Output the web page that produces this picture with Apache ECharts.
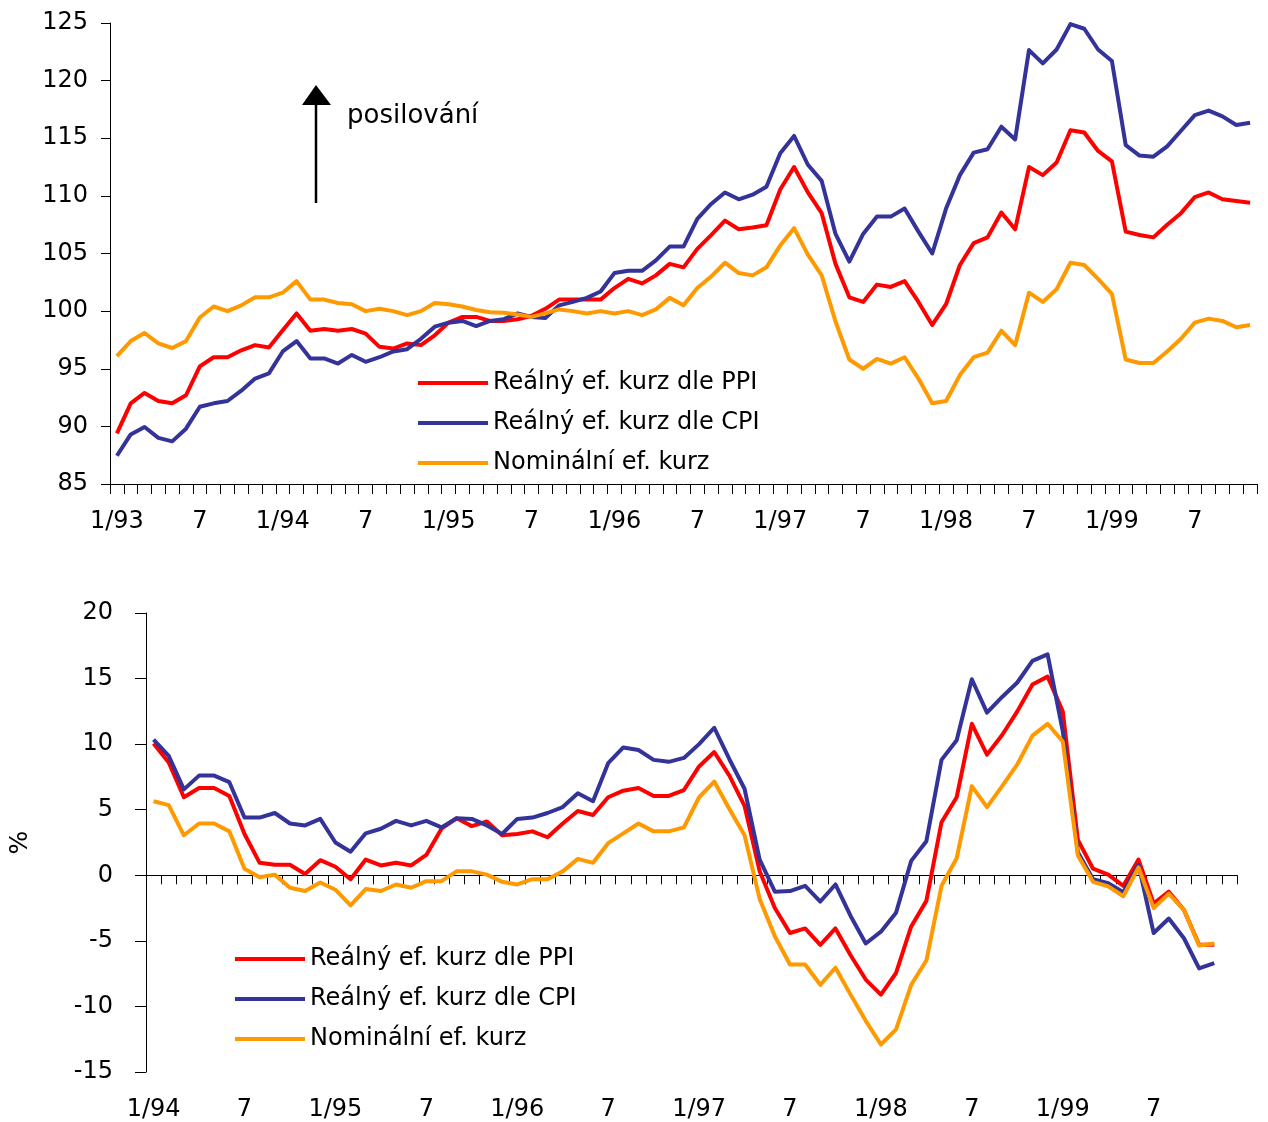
<!DOCTYPE html>
<html>
<head>
<meta charset="utf-8">
<script src="https://cdn.jsdelivr.net/npm/echarts@6/dist/echarts.min.js"></script>
<style>
  html, body { margin: 0; padding: 0; background: #fff; }
  #chart { width: 1268px; height: 1122px; }
</style>
</head>
<body>
<div id="chart"></div>
<script>
// měsíční kategorie
const topStart = { year: 1993, month: 1, count: 83 }     // 1/93 .. 11/99
const bottomStart = { year: 1994, month: 1, count: 72 }  // 1/94 .. 12/99

const topTickLabels = ['1/93', '7', '1/94', '7', '1/95', '7', '1/96', '7', '1/97', '7', '1/98', '7', '1/99', '7']
const bottomTickLabels = ['1/94', '7', '1/95', '7', '1/96', '7', '1/97', '7', '1/98', '7', '1/99', '7']

const seriesNames = ['Reálný ef. kurz dle PPI', 'Reálný ef. kurz dle CPI', 'Nominální ef. kurz']
const colors = ['#FF0000', '#333399', '#FF9900']

// horní graf - index (1/93 .. 11/99)
const topPPI = [
  89.4, 92.0, 92.9, 92.2, 92.0, 92.7, 95.2, 96.0, 96.0, 96.6, 97.05, 96.85,
  98.35, 99.8, 98.3, 98.45, 98.3, 98.45, 98.05, 96.9, 96.75, 97.2, 97.05, 97.9,
  99.0, 99.5, 99.5, 99.15, 99.15, 99.3, 99.6, 100.2, 101.0, 101.0, 101.0, 101.0,
  102.0, 102.8, 102.4, 103.1, 104.1, 103.8, 105.4, 106.6, 107.85, 107.1, 107.25, 107.45,
  110.55, 112.5, 110.3, 108.5, 104.1, 101.2, 100.8, 102.3, 102.1, 102.6, 100.8, 98.8,
  100.6, 104.0, 105.9, 106.4, 108.55, 107.1, 112.5, 111.8, 112.9, 115.7, 115.5, 113.9,
  113.0, 106.9, 106.6, 106.4, 107.5, 108.5, 109.9, 110.3, 109.7, 109.55, 109.4
]
const topCPI = [
  87.45, 89.3, 89.95, 89.0, 88.7, 89.8, 91.7, 92.0, 92.2, 93.1, 94.15, 94.6,
  96.5, 97.4, 95.9, 95.9, 95.45, 96.2, 95.6, 96.0, 96.5, 96.7, 97.6, 98.65,
  99.0, 99.15, 98.7, 99.15, 99.3, 99.8, 99.5, 99.4, 100.5, 100.8, 101.15, 101.7,
  103.3, 103.5, 103.5, 104.4, 105.6, 105.6, 108.0, 109.3, 110.3, 109.7, 110.1, 110.8,
  113.7, 115.2, 112.7, 111.3, 106.7, 104.3, 106.7, 108.2, 108.2, 108.9, 106.9, 105.0,
  108.9, 111.8, 113.75, 114.05, 116.0, 114.9, 122.65, 121.5, 122.7, 124.9, 124.5, 122.7,
  121.7, 114.4, 113.5, 113.4, 114.3, 115.65, 117.0, 117.4, 116.9, 116.15, 116.35
]
const topNominal = [
  96.1, 97.4, 98.1, 97.2, 96.8, 97.4, 99.45, 100.4, 100.0, 100.5, 101.2, 101.2,
  101.6, 102.6, 101.0, 101.0, 100.7, 100.6, 100.0, 100.2, 100.0, 99.65, 100.0, 100.7,
  100.6, 100.4, 100.1, 99.9, 99.85, 99.7, 99.5, 99.8, 100.15, 100.0, 99.8, 100.0,
  99.8, 100.0, 99.65, 100.15, 101.15, 100.5, 102.0, 103.0, 104.2, 103.3, 103.1, 103.8,
  105.7, 107.2, 104.9, 103.1, 99.1, 95.8, 95.0, 95.85, 95.45, 96.0, 94.15, 92.0,
  92.2, 94.45, 96.0, 96.4, 98.3, 97.05, 101.6, 100.8, 101.9, 104.2, 104.0, 102.8,
  101.5, 95.8, 95.5, 95.5, 96.5, 97.6, 99.0, 99.35, 99.15, 98.6, 98.8
]

// dolní graf - meziroční změna v % (1/94 .. 11/99)
const bottomPPI = [
  10.05, 8.6, 5.95, 6.65, 6.65, 6.05, 3.15, 0.95, 0.8, 0.8, 0.1, 1.15,
  0.65, -0.3, 1.2, 0.75, 0.95, 0.75, 1.55, 3.55, 4.35, 3.75, 4.1, 3.05,
  3.15, 3.35, 2.9, 3.95, 4.9, 4.6, 5.95, 6.45, 6.65, 6.05, 6.05, 6.5,
  8.3, 9.4, 7.6, 5.3, 0.3, -2.5, -4.4, -4.05, -5.3, -4.05, -6.1, -7.95,
  -9.1, -7.45, -3.9, -1.95, 4.05, 5.95, 11.55, 9.2, 10.7, 12.5, 14.55, 15.15,
  12.5, 2.7, 0.5, 0.05, -0.8, 1.2, -2.15, -1.25, -2.65, -5.3, -5.3
]
const bottomCPI = [
  10.35, 9.1, 6.55, 7.6, 7.6, 7.1, 4.4, 4.4, 4.75, 3.95, 3.8, 4.3,
  2.5, 1.8, 3.2, 3.55, 4.15, 3.8, 4.15, 3.65, 4.35, 4.3, 3.8, 3.15,
  4.3, 4.4, 4.75, 5.2, 6.25, 5.65, 8.55, 9.75, 9.55, 8.8, 8.65, 8.95,
  10.0, 11.25, 8.85, 6.6, 1.2, -1.25, -1.2, -0.8, -2.0, -0.7, -3.1, -5.2,
  -4.3, -2.85, 1.1, 2.6, 8.8, 10.3, 14.95, 12.4, 13.6, 14.7, 16.35, 16.85,
  11.0, 1.75, -0.3, -0.6, -1.3, 0.8, -4.4, -3.3, -4.8, -7.1, -6.7
]
const bottomNominal = [
  5.65, 5.35, 3.05, 3.95, 3.95, 3.35, 0.5, -0.15, 0.05, -0.95, -1.2, -0.55,
  -1.1, -2.3, -1.05, -1.2, -0.7, -0.95, -0.45, -0.45, 0.3, 0.3, 0.05, -0.5,
  -0.7, -0.3, -0.3, 0.3, 1.25, 0.95, 2.45, 3.2, 3.95, 3.35, 3.35, 3.65,
  5.95, 7.15, 5.05, 3.05, -1.8, -4.65, -6.8, -6.8, -8.35, -7.05, -9.1, -11.1,
  -12.9, -11.75, -8.35, -6.5, -0.8, 1.3, 6.8, 5.2, 6.8, 8.45, 10.65, 11.55,
  10.2, 1.5, -0.5, -0.85, -1.6, 0.6, -2.5, -1.4, -2.65, -5.35, -5.2
]

const monthList = (start) => {
  const out = []
  for (let i = 0; i < start.count; i++) {
    const m = (start.month - 1 + i) % 12 + 1
    const y = start.year + Math.floor((start.month - 1 + i) / 12)
    out.push(m + '/' + String(y).slice(2))
  }
  return out
}
const topCategories = monthList(topStart)
const bottomCategories = monthList(bottomStart)

const FONT = 'DejaVu Sans'
const axisColor = '#000'

const labelStyle = {
  color: '#000',
  fontFamily: FONT,
  fontSize: 24,
}

const makeLine = (name, data, color, xi, yi) => ({
  name: name,
  type: 'line',
  data: data,
  xAxisIndex: xi,
  yAxisIndex: yi,
  symbol: 'none',
  smooth: false,
  lineStyle: { color: color, width: 4, join: 'round' },
  itemStyle: { color: color },
  emphasis: { disabled: true },
  animation: false,
})

const legendBase = {
  orient: 'vertical',
  icon: 'rect',
  itemWidth: 70,
  itemHeight: 4,
  itemGap: 14,
  padding: 0,
  selectedMode: false,
  textStyle: { color: '#000', fontFamily: FONT, fontSize: 24, lineHeight: 26 },
  data: seriesNames,
}

const chart = echarts.init(document.getElementById('chart'), null, { renderer: 'canvas' })

chart.setOption({
  animation: false,
  backgroundColor: '#fff',
  grid: [
    { left: 110, top: 23, width: 1147, height: 461 },
    { left: 143, top: 613, width: 1094, height: 462 },
  ],
  legend: [
    Object.assign({}, legendBase, { left: 418, top: 370 }),
    Object.assign({}, legendBase, { left: 235, top: 946 }),
  ],
  xAxis: [
    {
      type: 'category',
      gridIndex: 0,
      data: topCategories,
      boundaryGap: true,
      axisLine: { show: true, onZero: false, lineStyle: { color: axisColor, width: 1 } },
      axisTick: { show: true, interval: 0, length: 10, lineStyle: { color: axisColor, width: 1 } },
      axisLabel: Object.assign({}, labelStyle, {
        interval: 5,
        margin: 26,
        formatter: (v, i) => topTickLabels[i / 6] || '',
      }),
      splitLine: { show: false },
    },
    {
      type: 'category',
      gridIndex: 1,
      data: bottomCategories,
      boundaryGap: true,
      position: 'bottom',
      axisLine: { show: true, onZero: true, lineStyle: { color: axisColor, width: 1 } },
      axisTick: { show: true, interval: 0, length: 9, lineStyle: { color: axisColor, width: 1 } },
      axisLabel: { show: false },
      splitLine: { show: false },
    },
    {
      type: 'category',
      gridIndex: 1,
      data: bottomCategories,
      boundaryGap: true,
      position: 'bottom',
      axisLine: { show: false, onZero: false },
      axisTick: { show: false },
      axisLabel: Object.assign({}, labelStyle, {
        interval: 5,
        margin: 26,
        formatter: (v, i) => bottomTickLabels[i / 6] || '',
      }),
      splitLine: { show: false },
    },
  ],
  yAxis: [
    {
      type: 'value',
      gridIndex: 0,
      min: 85,
      max: 125,
      interval: 5,
      axisLine: { show: true, lineStyle: { color: axisColor, width: 1 } },
      axisTick: { show: true, length: 9, lineStyle: { color: axisColor } },
      axisLabel: Object.assign({}, labelStyle, { margin: 22 }),
      splitLine: { show: false },
    },
    {
      type: 'value',
      gridIndex: 1,
      min: -15,
      max: 20,
      interval: 5,
      name: '%',
      nameLocation: 'middle',
      nameRotate: 90,
      nameGap: 113,
      nameTextStyle: { color: '#000', fontFamily: FONT, fontSize: 25 },
      axisLine: { show: true, onZero: false, lineStyle: { color: axisColor, width: 1 } },
      axisTick: { show: true, length: 11, lineStyle: { color: axisColor } },
      axisLabel: Object.assign({}, labelStyle, { margin: 33 }),
      splitLine: { show: false },
    },
  ],
  graphic: [
    {
      type: 'line',
      shape: { x1: 316, y1: 203, x2: 316, y2: 100 },
      style: { stroke: '#000', lineWidth: 2.5 },
    },
    {
      type: 'polygon',
      shape: { points: [[302, 105], [316, 85], [331, 105]] },
      style: { fill: '#000' },
    },
    {
      type: 'text',
      left: 347,
      top: 103,
      style: { text: 'posilování', fill: '#000', font: '26px "DejaVu Sans"' },
    },
  ],
  series: [
    makeLine(seriesNames[0], topPPI, colors[0], 0, 0),
    makeLine(seriesNames[1], topCPI, colors[1], 0, 0),
    makeLine(seriesNames[2], topNominal, colors[2], 0, 0),
    makeLine(seriesNames[0], bottomPPI, colors[0], 1, 1),
    makeLine(seriesNames[1], bottomCPI, colors[1], 1, 1),
    makeLine(seriesNames[2], bottomNominal, colors[2], 1, 1),
  ],
})
</script>
</body>
</html>
